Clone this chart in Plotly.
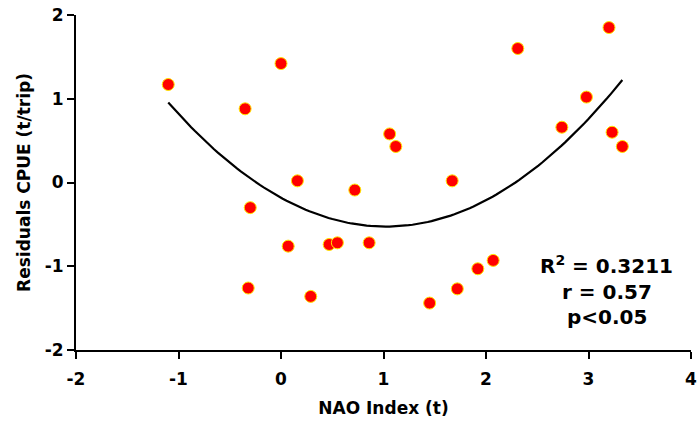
import numpy as np
import plotly.graph_objects as go

nao = [-1.10, 0.00, -0.35, 0.16, 0.72, 1.06, 1.12, 1.67, 2.31, 3.20, 2.98, 2.74, 3.23, 3.33,
       -0.30, 0.07, 0.47, 0.55, 0.86, -0.32, 0.29, 1.45, 1.72, 1.92, 2.07]
resid = [1.17, 1.42, 0.88, 0.02, -0.09, 0.58, 0.43, 0.02, 1.60, 1.85, 1.02, 0.66, 0.60, 0.43,
         -0.30, -0.76, -0.74, -0.72, -0.72, -1.26, -1.36, -1.44, -1.27, -1.03, -0.93]

stats_lines = ["R<sup>2</sup> = 0.3211", "r = 0.57", "p<0.05"]
x_ticks = [-2, -1, 0, 1, 2, 3, 4]
y_ticks = [-2, -1, 0, 1, 2]

coef = np.polyfit(nao, resid, 2)
xf = np.linspace(min(nao), max(nao), 120)
yf = np.polyval(coef, xf)

FONT = "DejaVu Sans"

fig = go.Figure()
fig.add_trace(go.Scatter(x=xf, y=yf, mode="lines",
                         line=dict(color="black", width=2.2), showlegend=False, hoverinfo="skip"))
fig.add_trace(go.Scatter(x=nao, y=resid, mode="markers",
                         marker=dict(color="red", size=12, line=dict(color="#ffe600", width=1)),
                         showlegend=False))

ann_y = [-0.98, -1.31, -1.60]
for txt, yy in zip(stats_lines, ann_y):
    fig.add_annotation(x=3.18, y=yy, xref="x", yref="y", text="<b>" + txt + "</b>",
                       showarrow=False, font=dict(family=FONT, size=20, color="black"),
                       xanchor="center", yanchor="middle")

axis_common = dict(showline=True, linecolor="black", linewidth=2, ticks="outside",
                   tickcolor="black", tickwidth=2, ticklen=7, showgrid=False, zeroline=False,
                   automargin=False, ticklabeloverflow="allow",
                   tickfont=dict(family=FONT, size=17, color="black", weight="bold"))

fig.update_xaxes(range=[-2, 4], tickvals=x_ticks, ticktext=[str(v) for v in x_ticks],
                 ticklabelstandoff=6,
                 title=dict(text="<b>NAO Index (t)</b>", font=dict(family=FONT, size=17, color="black"),
                            standoff=14),
                 **axis_common)
fig.update_yaxes(range=[-2, 2], tickvals=y_ticks, ticktext=[str(v) for v in y_ticks],
                 title=dict(text="<b>Residuals CPUE (t/trip)</b>", font=dict(family=FONT, size=17, color="black"),
                            standoff=10),
                 **axis_common)

fig.update_layout(width=697, height=423, margin=dict(l=76, r=6, t=15, b=73),
                  paper_bgcolor="white", plot_bgcolor="white")
# remove the default 8px page margin so the figure fills the window exactly
fig.write_html("out.html", config={"displayModeBar": False},
               post_script="document.body.style.margin='0';")
